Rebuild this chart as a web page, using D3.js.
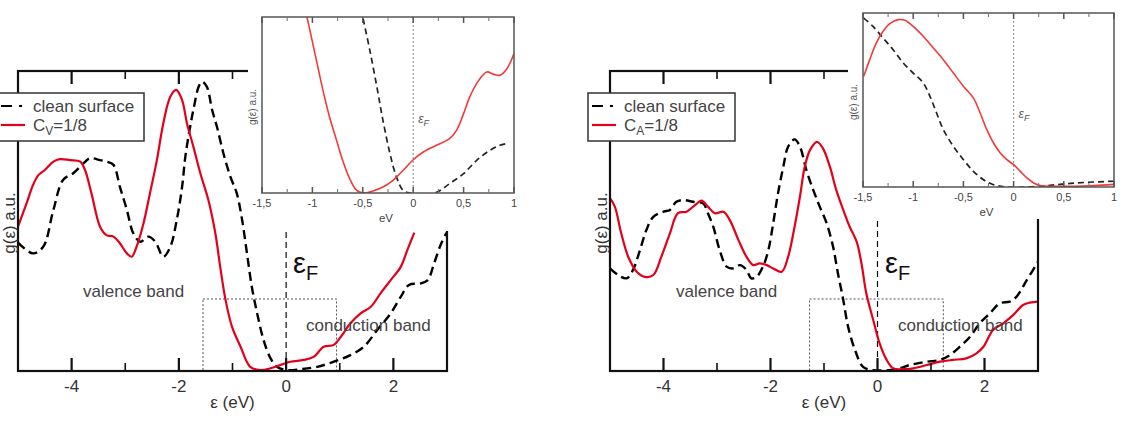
<!DOCTYPE html>
<html>
<head>
<meta charset="utf-8">
<title>Density of states</title>
<script src="https://cdn.jsdelivr.net/npm/d3@7"></script>
<style>
  body { margin: 0; background: #fff; }
  svg { font-family: "Liberation Sans", Arial, sans-serif; }
</style>
</head>
<body>
<script>

var width = 1129, height = 434;

// ticks
var mainTicks = [-4, -2, 0, 2],
    mainTickLabels = ["-4", "-2", "0", "2"],
    mainMinor = [-3, -1, 1],
    insetTicks = [-1.5, -1, -0.5, 0, 0.5, 1],
    insetTickLabels = ["-1,5", "-1", "-0,5", "0", "0,5", "1"],
    insetMinor = [-1.25, -0.75, -0.25, 0.25, 0.75];

// left panel, main plot  [eV, g (a.u.)]
var leftClean = [[-5,42.8],[-4.72,39.2],[-4.53,41.4],[-4.34,53.7],[-4.16,63.7],[-3.97,65.9],[-3.78,69.2],
  [-3.66,70.9],[-3.47,70.3],[-3.35,69.8],[-3.22,68.7],[-3.1,61.4],[-2.97,53.7],[-2.85,45.9],[-2.72,43.1],
  [-2.57,44.8],[-2.44,43.1],[-2.29,38.1],[-2.16,41.4],[-2.04,50.3],[-1.94,61.4],[-1.88,71.4],[-1.79,81.4],
  [-1.73,87],[-1.63,94.8],[-1.57,96.4],[-1.48,94.8],[-1.38,87],[-1.29,81.4],[-1.17,72.6],[-1.04,64.8],
  [-0.92,59.2],[-0.82,50.3],[-0.73,39.2],[-0.64,28.1],[-0.54,19.2],[-0.42,10.3],[-0.29,4.2],[-0.17,1.4],
  [0.02,0.3],[0.27,0.6],[0.58,1.4],[0.89,3.1],[1.2,5.3],[1.45,8.1],[1.7,13.7],[1.95,19.2],[2.14,24.8],
  [2.29,28.7],[2.51,29.2],[2.64,30.3],[2.76,35.9],[2.88,42],[2.99,46.1]];
var leftVacancy = [[-5,48.1],[-4.84,55.9],[-4.72,62],[-4.62,65.3],[-4.5,67],[-4.34,69.8],[-4.22,70.6],
  [-4.03,70.3],[-3.84,69.8],[-3.75,67],[-3.63,59.2],[-3.47,48.1],[-3.35,45.3],[-3.22,44.8],[-3.1,42.6],
  [-2.97,39.2],[-2.88,38.1],[-2.79,41.4],[-2.66,49.2],[-2.54,59.2],[-2.41,70.3],[-2.29,82.6],[-2.16,91.4],
  [-2.05,93.7],[-1.94,90.3],[-1.85,82.6],[-1.73,74.8],[-1.6,65.9],[-1.45,57],[-1.32,45.9],[-1.23,34.8],
  [-1.13,23.7],[-1.01,14.8],[-0.85,8.1],[-0.67,1.4],[-0.48,0.3],[-0.29,0.9],[-0.11,2],[0.08,3.1],
  [0.33,3.7],[0.52,4.8],[0.7,8.1],[0.89,8.7],[1.02,11.4],[1.2,15.9],[1.39,19.2],[1.58,21.4],[1.76,25.9],
  [1.95,30.3],[2.14,34.8],[2.26,40.3],[2.39,46.1]];

// left panel, inset
var leftInsetClean = [[-0.497,99],[-0.43,81],[-0.36,60.2],[-0.3,41.3],[-0.23,22.3],[-0.166,9.1],
  [-0.1,1.5],[-0.03,0],[0.215,0],[0.36,5.3],[0.5,11],[0.63,18.6],[0.76,24.2],[0.86,27.1],[0.95,28.4]];
var leftInsetVacancy = [[-1.054,100],[-1.01,88.6],[-0.96,75.4],[-0.895,58.3],[-0.83,43.2],[-0.76,29.9],
  [-0.7,18.6],[-0.63,8.1],[-0.56,1.5],[-0.48,0],[-0.4,1.1],[-0.3,3.4],[-0.2,7.2],[-0.1,12.9],[0,18.9],
  [0.1,23.3],[0.23,27.1],[0.36,30.9],[0.43,35.6],[0.5,45.1],[0.56,54.5],[0.65,64],[0.73,68.8],[0.8,67.4],
  [0.86,66.9],[0.93,70.6],[1,79.2]];

// right panel, main plot
var rightClean = [[-5,34.2],[-4.85,32],[-4.69,30.9],[-4.57,33.7],[-4.44,40.3],[-4.32,47],[-4.19,51.4],
  [-4,53.1],[-3.88,53.7],[-3.76,56.4],[-3.63,57],[-3.45,56.4],[-3.26,55.9],[-3.17,52.6],[-3.07,48.1],
  [-2.95,40.3],[-2.82,34.8],[-2.7,34.2],[-2.57,35.3],[-2.45,33.7],[-2.36,30.9],[-2.26,31.4],[-2.14,34.8],
  [-2.04,40.3],[-1.95,49.2],[-1.86,59.2],[-1.76,68.1],[-1.67,74.8],[-1.55,77.2],[-1.45,74.8],[-1.33,67],
  [-1.2,60.3],[-1.08,54.8],[-0.95,49.2],[-0.83,41.4],[-0.74,32.6],[-0.64,23.7],[-0.55,14.8],[-0.42,7],
  [-0.27,1.4],[-0.08,0.3],[0.36,0.6],[0.6,2],[0.92,3.1],[1.17,3.7],[1.35,5.3],[1.54,8.1],[1.73,11.4],
  [1.91,15.9],[2.1,19.2],[2.29,22.6],[2.47,23.1],[2.6,24.8],[2.79,30.3],[3,36.4]];
var rightAdatom = [[-5,57.6],[-4.91,54.8],[-4.79,45.9],[-4.66,38.1],[-4.5,33.1],[-4.35,31.4],[-4.19,32],
  [-4.04,38.1],[-3.88,45.9],[-3.73,52.6],[-3.57,53.1],[-3.41,55.3],[-3.29,56.8],[-3.17,54.8],[-3.04,52.6],
  [-2.88,53.1],[-2.76,50.3],[-2.6,43.7],[-2.45,38.1],[-2.32,35.3],[-2.2,35.9],[-2.07,35.3],[-1.95,34.2],
  [-1.79,33.1],[-1.67,38.1],[-1.55,48.1],[-1.45,58.1],[-1.36,68.1],[-1.26,73.7],[-1.13,76.4],[-1.02,74.2],
  [-0.89,68.1],[-0.77,60.3],[-0.64,53.7],[-0.52,48.1],[-0.39,43.1],[-0.3,35.9],[-0.21,25.9],[-0.08,17],
  [0.04,9.2],[0.17,3.7],[0.29,0.9],[0.48,0.6],[0.67,0.9],[0.92,2],[1.17,3.1],[1.41,3.7],[1.66,4.2],
  [1.85,5.9],[1.98,8.1],[2.16,13.7],[2.35,15.9],[2.54,18.7],[2.72,22],[2.85,22.8],[3,23.1]];

// right panel, inset
var rightInsetClean = [[-1.493,97.1],[-1.4,92.3],[-1.3,85.6],[-1.2,78.9],[-1.1,71.3],[-1,65.5],[-0.9,59.8],
  [-0.833,52.1],[-0.767,42.5],[-0.7,33],[-0.6,23.4],[-0.5,15.7],[-0.4,9],[-0.3,4.2],[-0.2,1.3],[-0.067,0],
  [0.133,0],[0.333,0.8],[0.533,1.9],[0.733,2.7],[1,3.3]];
var rightInsetAdatom = [[-1.493,63.6],[-1.433,73.2],[-1.367,82.8],[-1.3,89.5],[-1.233,93.9],[-1.15,96.2],
  [-1.083,95.8],[-1,92.3],[-0.9,86.6],[-0.8,79.9],[-0.7,73.2],[-0.6,65.5],[-0.5,57.9],[-0.4,51.1],
  [-0.333,42.5],[-0.267,33],[-0.2,25.3],[-0.133,19.5],[-0.067,15.7],[0,12.8],[0.067,9],[0.133,5.2],
  [0.2,2.3],[0.267,0.8],[0.4,0.4],[0.6,0.4],[0.8,0.8],[1,1.5]];

var svg = d3.select("body").append("svg")
    .attr("width", width)
    .attr("height", height);

var panels = [
  { id: "l", main: [18, 447, 371, 71], inset: [262, 514, 193, 17], cover: [248, 0, 300, 231],
    legend: [-3, 93], sub: "V", clean: leftClean, doped: leftVacancy,
    insetClean: leftInsetClean, insetDoped: leftInsetVacancy,
    valence: [83, 297], conduction: [306, 331], ef: [293, 273], efTop: 232,
    box: [-1.55, 0.94, 24], insetYLabelX: 256, eVy: 222 },
  { id: "r", main: [610, 1038, 371, 71], inset: [863, 1114, 187, 13], cover: [848, 0, 281, 219],
    legend: [588, 93], sub: "A", clean: rightClean, doped: rightAdatom,
    insetClean: rightInsetClean, insetDoped: rightInsetAdatom,
    valence: [676, 297], conduction: [898, 331], ef: [885, 273], efTop: 221,
    box: [-1.27, 1.23, 24], insetYLabelX: 857, eVy: 216 }
];

panels.forEach(drawPanel);

// inward tick marks on the bottom and top edge of a frame, one path per set
function drawTicks(sel, scale, values, yBottom, yTop, len, color, w) {
  var d = values.map(function(v) {
    var px = scale(v);
    return "M" + px + "," + yBottom + "V" + (yBottom - len) +
           "M" + px + "," + yTop + "V" + (yTop + len);
  }).join("");
  sel.append("path")
      .attr("d", d)
      .attr("fill", "none")
      .attr("stroke", color)
      .attr("stroke-width", w);
}

function drawPanel(p) {
  var m = p.main;
  var x = d3.scaleLinear().domain([-5, 3]).range([m[0], m[1]]);
  var y = d3.scaleLinear().domain([0, 100]).range([m[2], m[3]]);
  var line = d3.line()
      .x(function(d){ return x(d[0]); })
      .y(function(d){ return y(d[1]); })
      .curve(d3.curveCatmullRom);

  var g = svg.append("g");

  // dotted box marking the zoomed window
  g.append("rect")
      .attr("x", x(p.box[0])).attr("y", y(p.box[2]))
      .attr("width", x(p.box[1]) - x(p.box[0]))
      .attr("height", y(0) - y(p.box[2]))
      .attr("fill", "none").attr("stroke", "#555")
      .attr("stroke-width", 1).attr("stroke-dasharray", "2,2");

  // Fermi level
  g.append("line")
      .attr("x1", x(0)).attr("x2", x(0))
      .attr("y1", p.efTop).attr("y2", y(0))
      .attr("stroke", "#111").attr("stroke-width", 1.2)
      .attr("stroke-dasharray", "6,4");

  g.append("path").datum(p.clean)
      .attr("d", line).attr("fill", "none")
      .attr("stroke", "#000").attr("stroke-width", 2.4)
      .attr("stroke-dasharray", "9,5");
  g.append("path").datum(p.doped)
      .attr("d", line).attr("fill", "none")
      .attr("stroke", "#e3001b").attr("stroke-width", 2.2);

  // frame + ticks
  g.append("rect")
      .attr("x", m[0]).attr("y", m[3])
      .attr("width", m[1] - m[0]).attr("height", m[2] - m[3])
      .attr("fill", "none").attr("stroke", "#111").attr("stroke-width", 2.2);
  drawTicks(g, x, mainTicks, m[2], m[3], 13, "#111", 2.2);
  drawTicks(g, x, mainMinor, m[2], m[3], 8, "#111", 1.6);

  g.append("g").selectAll("text").data(mainTicks).enter().append("text")
      .attr("x", x).attr("y", m[2] + 21)
      .attr("text-anchor", "middle").attr("font-size", 17).attr("fill", "#333")
      .text(function(d, i){ return mainTickLabels[i]; });

  g.append("text")
      .attr("x", (m[0] + m[1]) / 2).attr("y", 408)
      .attr("text-anchor", "middle").attr("font-size", 17).attr("fill", "#333")
      .text("ε (eV)");
  g.append("text")
      .attr("transform", "translate(" + (m[0] - 3) + ",223) rotate(-90)")
      .attr("text-anchor", "middle").attr("font-size", 17).attr("fill", "#333")
      .text("g(ε) a.u.");

  // band labels and Fermi label
  g.append("text").attr("x", p.valence[0]).attr("y", p.valence[1])
      .attr("font-size", 17).attr("fill", "#444").text("valence band");
  g.append("text").attr("x", p.conduction[0]).attr("y", p.conduction[1])
      .attr("font-size", 17).attr("fill", "#444").text("conduction band");
  var ef = g.append("text").attr("x", p.ef[0]).attr("y", p.ef[1]).attr("fill", "#111");
  ef.append("tspan").attr("font-size", 29).text("ε");
  ef.append("tspan").attr("font-size", 20).attr("dy", 7).text("F");

  // legend
  var lg = g.append("g").attr("transform", "translate(" + p.legend[0] + "," + p.legend[1] + ")");
  lg.append("rect").attr("width", 147).attr("height", 48)
      .attr("fill", "#fff").attr("stroke", "#333").attr("stroke-width", 1.5);
  lg.append("line").attr("x1", 4).attr("x2", 28).attr("y1", 13).attr("y2", 13)
      .attr("stroke", "#000").attr("stroke-width", 2.2).attr("stroke-dasharray", "11,7,3,7");
  lg.append("line").attr("x1", 4).attr("x2", 28).attr("y1", 32).attr("y2", 32)
      .attr("stroke", "#e3001b").attr("stroke-width", 2.2);
  lg.append("text").attr("x", 36).attr("y", 19).attr("font-size", 17).attr("fill", "#444")
      .text("clean surface");
  var lt = lg.append("text").attr("x", 36).attr("y", 38).attr("font-size", 17).attr("fill", "#444");
  lt.append("tspan").text("C");
  lt.append("tspan").attr("font-size", 12).attr("dy", 4).text(p.sub);
  lt.append("tspan").attr("dy", -4).text("=1/8");

  // inset sits on a white patch over the top right corner
  g.append("rect")
      .attr("x", p.cover[0]).attr("y", p.cover[1])
      .attr("width", p.cover[2]).attr("height", p.cover[3])
      .attr("fill", "#fff");

  var n = p.inset;
  var xi = d3.scaleLinear().domain([-1.5, 1]).range([n[0], n[1]]);
  var yi = d3.scaleLinear().domain([0, 100]).range([n[2], n[3]]);
  var lineI = d3.line()
      .x(function(d){ return xi(d[0]); })
      .y(function(d){ return yi(d[1]); })
      .curve(d3.curveCatmullRom);

  var ig = g.append("g");
  ig.append("clipPath").attr("id", "clip-" + p.id)
    .append("rect").attr("x", n[0]).attr("y", n[3])
      .attr("width", n[1] - n[0]).attr("height", n[2] - n[3]);

  ig.append("line")
      .attr("x1", xi(0)).attr("x2", xi(0)).attr("y1", n[3]).attr("y2", n[2])
      .attr("stroke", "#999").attr("stroke-width", 1.2).attr("stroke-dasharray", "2,2");

  var curves = ig.append("g").attr("clip-path", "url(#clip-" + p.id + ")");
  curves.append("path").datum(p.insetClean)
      .attr("d", lineI).attr("fill", "none")
      .attr("stroke", "#222").attr("stroke-width", 1.7).attr("stroke-dasharray", "6,4");
  curves.append("path").datum(p.insetDoped)
      .attr("d", lineI).attr("fill", "none")
      .attr("stroke", "#f03a3a").attr("stroke-width", 1.6);

  ig.append("rect")
      .attr("x", n[0]).attr("y", n[3])
      .attr("width", n[1] - n[0]).attr("height", n[2] - n[3])
      .attr("fill", "none").attr("stroke", "#555").attr("stroke-width", 1.5);
  drawTicks(ig, xi, insetTicks, n[2], n[3], 6, "#555", 1.5);
  drawTicks(ig, xi, insetMinor, n[2], n[3], 4, "#777", 1.1);

  ig.append("g").selectAll("text").data(insetTicks).enter().append("text")
      .attr("x", xi).attr("y", n[2] + 14)
      .attr("text-anchor", "middle").attr("font-size", 11).attr("fill", "#444")
      .text(function(d, i){ return insetTickLabels[i]; });

  ig.append("text").attr("x", (n[0] + n[1]) / 2 - 2).attr("y", p.eVy)
      .attr("text-anchor", "middle").attr("font-size", 11.5).attr("fill", "#444").text("eV");
  ig.append("text")
      .attr("transform", "translate(" + p.insetYLabelX + "," + ((n[2] + n[3]) / 2 + 2) + ") rotate(-90)")
      .attr("text-anchor", "middle").attr("font-size", 10).attr("fill", "#555")
      .text("g(ε) a.u.");
  var eif = ig.append("text").attr("x", xi(0) + 5).attr("y", (n[2] + n[3]) / 2 + 18).attr("fill", "#555")
      .attr("font-style", "italic");
  eif.append("tspan").attr("font-size", 12).text("ε");
  eif.append("tspan").attr("font-size", 9).attr("dy", 3).text("F");
}
</script>
</body>
</html>
